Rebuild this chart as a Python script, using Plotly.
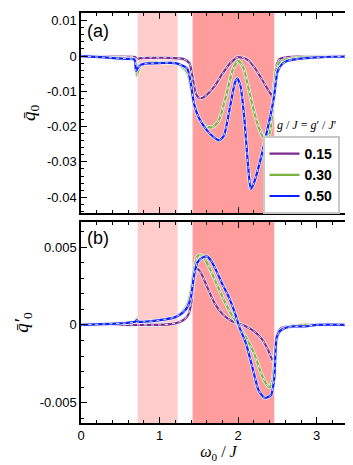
"""Two-panel response curves q0 and q0' versus omega0/J."""

import plotly.graph_objects as go

# ---- data ----
G_LABELS = ["0.15", "0.30", "0.50"]
COLORS = ["#7b2d8e", "#7cb342", "#0a1eff"]

# panel (a): q0
xa_015 = [0, 0.3, 0.6, 0.69, 0.71, 0.75, 0.9, 1.1, 1.3, 1.38, 1.42, 1.46, 1.5, 1.55,
          1.6, 1.7, 1.8, 1.9, 2.0, 2.1, 2.2, 2.3, 2.38, 2.43, 2.46, 2.49, 2.53, 2.6,
          2.7, 3.0, 3.5]
ya_015 = [0, -0.0001, -0.0002, -0.0003, -0.001, -0.0006, -0.0005, -0.0005, -0.0008,
          -0.002, -0.006, -0.0105, -0.0118, -0.0118, -0.011, -0.0085, -0.005, -0.002,
          -0.0003, -0.0008, -0.003, -0.0065, -0.0095, -0.0112, -0.008, -0.0025,
          -0.0008, -0.0004, -0.0002, 0, 0]

xa_030 = [0, 0.3, 0.6, 0.69, 0.71, 0.73, 0.78, 0.9, 1.1, 1.25, 1.35, 1.4, 1.44, 1.5,
          1.58, 1.67, 1.75, 1.85, 1.93, 2.0, 2.07, 2.15, 2.25, 2.34, 2.4, 2.45, 2.48,
          2.52, 2.6, 2.7, 2.85, 3.0, 3.5]
ya_030 = [0, -0.0003, -0.0006, -0.001, -0.0055, -0.004, -0.0025, -0.0018, -0.0018,
          -0.0024, -0.0045, -0.009, -0.0137, -0.0175, -0.0198, -0.0202, -0.0185,
          -0.011, -0.004, -0.0013, -0.0035, -0.011, -0.0195, -0.0236, -0.022, -0.012,
          -0.004, -0.002, -0.001, -0.0006, -0.0003, -0.0002, 0]

xa_050 = [0, 0.3, 0.6, 0.68, 0.70, 0.72, 0.76, 0.85, 1.0, 1.2, 1.35, 1.4, 1.44, 1.5,
          1.6, 1.7, 1.76, 1.82, 1.9, 1.96, 1.99, 2.03, 2.08, 2.13, 2.16, 2.2, 2.3,
          2.37, 2.42, 2.46, 2.5, 2.55, 2.62, 2.7, 2.85, 3.0, 3.2, 3.5]
ya_050 = [0, -0.0004, -0.0008, -0.001, -0.0043, -0.0035, -0.0025, -0.0021, -0.002,
          -0.002, -0.0035, -0.008, -0.0137, -0.0175, -0.021, -0.0232, -0.0239, -0.0225,
          -0.014, -0.0075, -0.0064, -0.0085, -0.018, -0.032, -0.0377, -0.036, -0.028,
          -0.021, -0.016, -0.011, -0.0045, -0.0025, -0.0014, -0.001, -0.0006, -0.0004,
          -0.0002, -0.0001]

# panel (b): q0'
xb_015 = [0, 0.5, 0.7, 0.75, 1.0, 1.2, 1.3, 1.36, 1.4, 1.44, 1.48, 1.52, 1.6, 1.7,
          1.8, 1.9, 2.0, 2.1, 2.2, 2.3, 2.38, 2.44, 2.47, 2.5, 2.55, 2.65, 2.8, 3.5]
yb_015 = [0, 0, 0, 0, 0, 0.0001, 0.0003, 0.0006, 0.0013, 0.003, 0.0036, 0.0034,
          0.0025, 0.0014, 0.0007, 0.0003, 0.0001, -0.0001, -0.0004, -0.0009, -0.0016,
          -0.0023, -0.0018, -0.0006, -0.0002, -0.0001, 0, 0]

xb_030 = [0, 0.5, 0.69, 0.71, 0.73, 0.8, 1.0, 1.2, 1.3, 1.36, 1.4, 1.44, 1.48, 1.52,
          1.58, 1.65, 1.72, 1.8, 1.9, 2.0, 2.1, 2.2, 2.3, 2.36, 2.4, 2.44, 2.48, 2.52,
          2.6, 2.7, 2.85, 3.5]
yb_030 = [0, 0.0001, 0.0002, 0.0004, 0.0002, 0.0002, 0.0003, 0.0005, 0.0009, 0.0014,
          0.0022, 0.0036, 0.0044, 0.0045, 0.0042, 0.0035, 0.0027, 0.0018, 0.0008, 0.0,
          -0.0008, -0.0018, -0.0032, -0.0038, -0.004, -0.0035, -0.0012, -0.0005,
          -0.0002, -0.0001, 0, 0]

xb_050 = [0, 0.5, 0.69, 0.71, 0.73, 0.8, 1.0, 1.2, 1.3, 1.36, 1.4, 1.44, 1.48, 1.54,
          1.6, 1.66, 1.72, 1.8, 1.88, 1.95, 2.02, 2.1, 2.18, 2.26, 2.34, 2.42, 2.46,
          2.49, 2.53, 2.6, 2.7, 2.85, 3.0, 3.5]
yb_050 = [0, 0.0001, 0.0002, 0.0003, 0.0002, 0.0002, 0.0003, 0.0005, 0.0008, 0.0012,
          0.0018, 0.0032, 0.004, 0.0043, 0.0044, 0.0041, 0.0035, 0.0026, 0.0018, 0.0009,
          -0.0002, -0.0012, -0.0027, -0.0042, -0.0047, -0.0045, -0.0034, -0.0008,
          -0.0004, -0.0002, -0.0001, -0.0001, 0, 0]

BANDS = [(0.72, 1.23, "#ffcccc"), (1.42, 2.46, "#ff9c9c")]

YA_TICKS = [0.01, 0, -0.01, -0.02, -0.03, -0.04]
YB_TICKS = [0.005, 0, -0.005]

panel_a = [(xa_015, ya_015), (xa_030, ya_030), (xa_050, ya_050)]
panel_b = [(xb_015, yb_015), (xb_030, yb_030), (xb_050, yb_050)]


def fmt(v):
    return "0" if v == 0 else f"{v:g}"


fig = go.Figure()

for xref, yref, curves in (("x", "y", panel_a), ("x2", "y2", panel_b)):
    first = xref == "x"
    for (xs, ys), color, label in zip(curves, COLORS, G_LABELS):
        # light halo, coloured line, then a thin white dash on top
        fig.add_trace(go.Scatter(x=xs, y=ys, xaxis=xref, yaxis=yref, mode="lines",
                                 line=dict(color="#f3effa", width=3.6, shape="spline",
                                           smoothing=0.6),
                                 showlegend=False, hoverinfo="skip"))
        fig.add_trace(go.Scatter(x=xs, y=ys, xaxis=xref, yaxis=yref, mode="lines",
                                 name=label,
                                 line=dict(color=color, width=2.2, shape="spline",
                                           smoothing=0.6),
                                 showlegend=first))
        fig.add_trace(go.Scatter(x=xs, y=ys, xaxis=xref, yaxis=yref, mode="lines",
                                 line=dict(color="white", width=0.9, dash="3px,4px",
                                           shape="spline", smoothing=0.6),
                                 showlegend=False, hoverinfo="skip"))

for x0, x1, col in BANDS:
    for yr in ("y domain", "y2 domain"):
        fig.add_shape(type="rect", xref="x" if yr == "y domain" else "x2", yref=yr,
                      x0=x0, x1=x1, y0=0, y1=1, fillcolor=col, line_width=0,
                      layer="below")

axis_common = dict(showline=True, linecolor="black", linewidth=1.5, mirror="ticks",
                   ticks="inside", ticklen=6, tickwidth=1.3, tickcolor="black",
                   showgrid=False, zeroline=False,
                   tickfont=dict(family="Liberation Sans", size=13, color="black"))

fig.update_layout(
    width=353, height=465,
    margin=dict(l=73, r=3, t=5, b=50),
    plot_bgcolor="white", paper_bgcolor="white",
    xaxis=dict(domain=[0, 1], range=[0, 3.5], anchor="y", showticklabels=False,
               dtick=1, minor=dict(dtick=0.2, ticks="inside", ticklen=3,
                                   tickcolor="black"),
               **axis_common),
    xaxis2=dict(domain=[0, 1], range=[0, 3.5], anchor="y2", dtick=1,
                minor=dict(dtick=0.2, ticks="inside", ticklen=3, tickcolor="black"),
                title=dict(text="<i>ω</i><sub>0</sub> / <i>J</i>", standoff=0,
                           font=dict(family="Liberation Serif", size=16,
                                     color="black")),
                **axis_common),
    yaxis=dict(domain=[0.512, 1], range=[-0.0445, 0.0122], anchor="x",
               tickvals=YA_TICKS, ticktext=[fmt(v) for v in YA_TICKS],
               minor=dict(dtick=0.002, tick0=0, ticks="inside", ticklen=3,
                          tickcolor="black"),
               title=dict(text="<i>q̄</i><sub>0</sub>", standoff=6,
                          font=dict(family="Liberation Serif", size=19,
                                    color="black")),
               **axis_common),
    yaxis2=dict(domain=[0, 0.49], range=[-0.0063, 0.0066], anchor="x2",
                tickvals=YB_TICKS, ticktext=[fmt(v) for v in YB_TICKS],
                minor=dict(dtick=0.001, tick0=0, ticks="inside", ticklen=3,
                           tickcolor="black"),
                title=dict(text="<i>q̄′</i><sub>0</sub>", standoff=6,
                           font=dict(family="Liberation Serif", size=19,
                                     color="black")),
                **axis_common),
    legend=dict(x=0.94, y=0.70, xanchor="right", yanchor="top",
                bgcolor="white", bordercolor="#c8c8c8", borderwidth=2,
                font=dict(family="Liberation Sans", size=14, color="black",
                          weight="bold"),
                itemwidth=30, tracegroupgap=0),
    annotations=[
        dict(text="(a)", x=0.015, y=0.985, xref="paper", yref="paper",
             xanchor="left", yanchor="top", showarrow=False,
             font=dict(family="Liberation Sans", size=18, color="black")),
        dict(text="(b)", x=0.015, y=0.48, xref="paper", yref="paper",
             xanchor="left", yanchor="top", showarrow=False,
             font=dict(family="Liberation Sans", size=18, color="black")),
        dict(text="<i>g</i> / <i>J</i> = <i>g</i>′ / <i>J</i>′", x=0.82, y=0.705,
             xref="paper", yref="paper", xanchor="center", yanchor="bottom",
             showarrow=False,
             font=dict(family="Liberation Serif", size=12, color="black")),
    ],
)

fig.write_html("out.html")
